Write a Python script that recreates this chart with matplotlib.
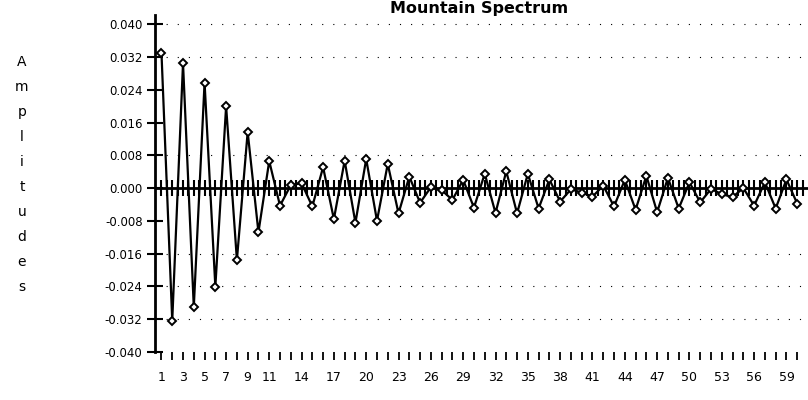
import numpy as np
import matplotlib.pyplot as plt

# amplitude of each spectral line (1..60)
amps = [0.0331, -0.0324, 0.0305, -0.0291, 0.0258, -0.0241, 0.0200, -0.0176, 0.0137, -0.0108,
        0.0066, -0.0043, 0.0007, 0.0012, -0.0045, 0.0051, -0.0076, 0.0067, -0.0085, 0.0071,
        -0.0080, 0.0059, -0.0062, 0.0028, -0.0036, 0.0002, -0.0005, -0.0029, 0.0020, -0.0048,
        0.0035, -0.0061, 0.0041, -0.0062, 0.0035, -0.0050, 0.0021, -0.0033, -0.0003, -0.0011,
        -0.0021, 0.0006, -0.0045, 0.0020, -0.0053, 0.0030, -0.0059, 0.0025, -0.0050, 0.0014,
        -0.0035, -0.0002, -0.0015, -0.0022, 0.0000, -0.0043, 0.0014, -0.0050, 0.0021, -0.0038]
x = np.arange(1, len(amps) + 1)

xlabels = [1, 3, 5, 7, 9, 11, 14, 17, 20, 23, 26, 29, 32, 35, 38, 41, 44, 47, 50, 53, 56, 59]
yticks = [0.040, 0.032, 0.024, 0.016, 0.008, 0.000, -0.008, -0.016, -0.024, -0.032, -0.040]
grid_levels = [0.040, 0.032, 0.008, -0.016, -0.024, -0.032]

fig = plt.figure(figsize=(8.08, 4.0), dpi=100)
ax = fig.add_axes([155 / 808, 48.3 / 400, 653 / 808, 336.7 / 400])

ax.set_xlim(0.4, 61.0)
ax.set_ylim(-0.040, 0.0423)

# sparse dotted grid
for g in grid_levels:
    ax.axhline(g, color="black", lw=0.8, ls=(0, (1, 9)), zorder=1)

# zero line with crossing ticks
ax.axhline(0, color="black", lw=2, zorder=2)
ax.vlines(np.arange(1, 61, 0.5), -0.0019, 0.0019, color="black", lw=1.5, zorder=2)

ax.plot(x, amps, color="black", lw=1.6, marker="D", ms=4.5, mfc="white",
        mec="black", mew=1.4, zorder=3)

ax.spines["top"].set_visible(False)
ax.spines["right"].set_visible(False)
ax.spines["bottom"].set_visible(False)
ax.spines["left"].set_linewidth(2)

ax.set_yticks(yticks)
ax.set_yticklabels([f"{v:.3f}" for v in yticks], fontsize=8.5)
ax.tick_params(axis="y", direction="inout", length=12, width=1.5, pad=3)

ax.set_xticks(x, minor=True)
ax.set_xticks(xlabels)
ax.set_xticklabels([str(v) for v in xlabels], fontsize=9)
ax.tick_params(axis="x", which="both", direction="out", length=6, width=1.3, pad=8)

# stacked vertical axis label
for i, ch in enumerate("Amplitudes"):
    fig.text(22 / 808, 1 - (62 + 25 * i) / 400, ch, ha="center", va="center", fontsize=10)

fig.text(479 / 808, 1 - 1 / 400, "Mountain Spectrum", ha="center", va="top",
         fontsize=11.5, fontweight="bold")

fig.savefig("out.png", dpi=100)
